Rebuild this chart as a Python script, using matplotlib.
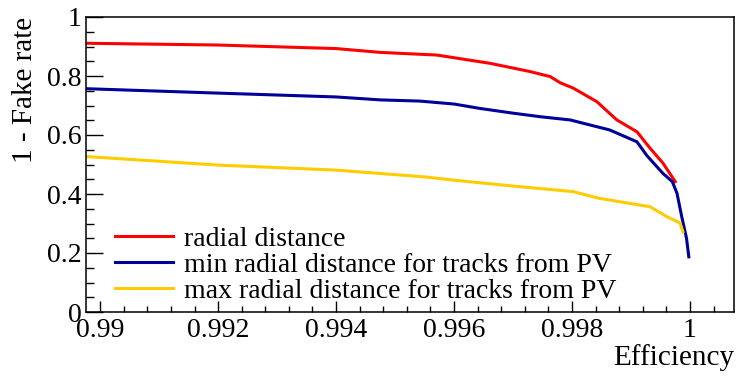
import numpy as np
import matplotlib
matplotlib.use("Agg")
import matplotlib.pyplot as plt
from matplotlib.ticker import MultipleLocator, FixedLocator

plt.rcParams['font.family'] = ['Liberation Serif', 'DejaVu Serif']

# efficiency / (1 - fake rate) points
eff_radial = [0.98976, 0.992, 0.994, 0.99475, 0.99571, 0.99661, 0.99729, 0.99763,
              0.9978, 0.99802, 0.99842, 0.99876, 0.9991, 0.99932, 0.99954, 0.99975]
rate_radial = [0.911, 0.905, 0.893, 0.880, 0.871, 0.843, 0.815, 0.798,
               0.777, 0.759, 0.713, 0.651, 0.611, 0.556, 0.505, 0.442]

eff_min = [0.98976, 0.992, 0.994, 0.99475, 0.99542, 0.996, 0.99644, 0.997, 0.99746,
           0.99797, 0.99864, 0.9991, 0.99927, 0.99954, 0.9997, 0.99978, 0.99986,
           0.99994, 0.99998]
rate_min = [0.757, 0.742, 0.729, 0.719, 0.715, 0.705, 0.690, 0.674, 0.662,
            0.651, 0.617, 0.577, 0.530, 0.470, 0.442, 0.402, 0.323,
            0.251, 0.187]

eff_max = [0.98976, 0.992, 0.994, 0.9955, 0.996, 0.99644, 0.997, 0.99802, 0.99847,
           0.99932, 0.99961, 0.99983, 0.99988]
rate_max = [0.527, 0.498, 0.481, 0.458, 0.447, 0.438, 0.427, 0.408, 0.385,
            0.357, 0.323, 0.302, 0.272]

labels = ["radial distance",
          "min radial distance for tracks from PV",
          "max radial distance for tracks from PV"]
colors = ["#ff0000", "#000099", "#ffcc00"]

fig = plt.figure(figsize=(7.36, 3.76), dpi=100)
ax = fig.add_axes([86/736, 64/376, 648/736, 295/376])

ax.plot(eff_radial, rate_radial, color=colors[0], lw=2.2, label=labels[0])
ax.plot(eff_min, rate_min, color=colors[1], lw=2.2, label=labels[1])
ax.plot(eff_max, rate_max, color=colors[2], lw=2.2, label=labels[2])

ax.set_xlim(0.98976, 1.000746)
ax.set_ylim(0, 1)

ax.xaxis.set_major_locator(FixedLocator([0.99, 0.992, 0.994, 0.996, 0.998, 1.0]))
ax.xaxis.set_minor_locator(FixedLocator(np.arange(0.9900, 1.00075, 0.0004)))
ax.set_xticklabels(["0.99", "0.992", "0.994", "0.996", "0.998", "1"])
ax.yaxis.set_minor_locator(MultipleLocator(0.05))
ax.set_yticks([0, 0.2, 0.4, 0.6, 0.8, 1.0])
ax.set_yticklabels(["0", "0.2", "0.4", "0.6", "0.8", "1"])

ax.tick_params(axis='both', which='both', direction='in', labelsize=20, width=1)
ax.tick_params(axis='x', which='major', length=8, pad=4)
ax.tick_params(axis='x', which='minor', length=4.5)
ax.tick_params(axis='y', which='major', length=12, pad=3)
ax.tick_params(axis='y', which='minor', length=6)
for s in ax.spines.values():
    s.set_linewidth(1.1)

fig.text(25/736, 1 - 17/376, "1 - Fake rate", fontsize=21, rotation=90,
         ha='center', va='top')
fig.text(734/736, 1 - 365/376, "Efficiency", fontsize=21, ha='right', va='baseline')

ax.legend(loc='lower left', bbox_to_anchor=(0.044, 0.027), frameon=False, fontsize=20,
          handlelength=2.09, handletextpad=0.4, labelspacing=0.02, borderpad=0,
          borderaxespad=0)

fig.savefig("out.png", dpi=100)
